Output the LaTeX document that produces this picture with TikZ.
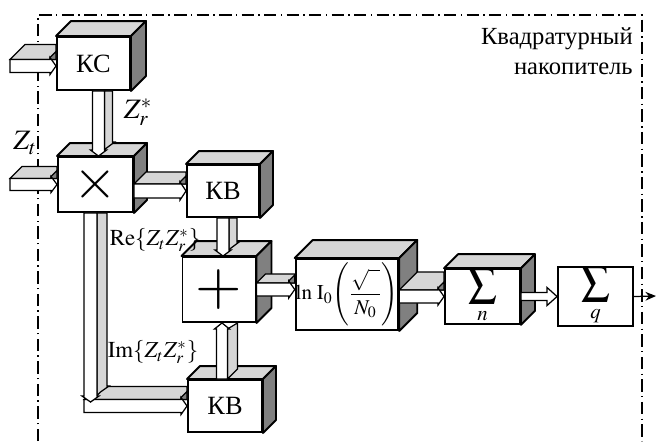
\documentclass[tikz,border=0pt]{standalone}
\usepackage{mathptmx}
\usepackage{fontspec}
\setmainfont{Liberation Serif}
\usetikzlibrary{calc, arrows.meta, positioning}

\newlength\px
\setlength\px{0.02cm}
\colorlet{topgray}{black!16}
\colorlet{sidegray}{black!50}

\tikzset{
  box/.style={draw, fill=white, line width=1.1pt, inner sep=0pt, font=\fontsize{15}{17}\selectfont},
  face/.style={draw, line width=1.1pt, line join=round},
  frame/.style={line width=0.6pt, dash pattern=on 7pt off 2.5pt on 0.8pt off 2.5pt},
  arrfront/.style={draw, fill=white, line width=0.7pt},
  arrtop/.style={draw, fill=topgray, line width=0.7pt},
  arrside/.style={draw, fill=sidegray, line width=0.7pt},
  lbl/.style={inner sep=0pt, font=\fontsize{13}{15}\selectfont},
}

% 3D faces of a block: node, depth
\newcommand\cubefaces[2]{%
  \draw[face, fill=topgray] (#1.north west) -- ++(#2,-#2) -- ($(#1.north east)+(#2,-#2)$) -- (#1.north east) -- cycle;
  \draw[face, fill=sidegray] (#1.north east) -- ++(#2,-#2) -- ($(#1.south east)+(#2,-#2)$) -- (#1.south east) -- cycle;
}
% wide horizontal arrow: tail, head, half width, depth
\newcommand\harrow[4]{%
  \coordinate (ta) at (#1);
  \coordinate (tb) at (#1 -| #2);
  \draw[arrtop] ($(ta)+(0,-#3)$) -- ++(#4,-#4) -- ($(tb)+(0,-#3-#4)$) -- ($(tb)+(0,-#3)$) -- cycle;
  \draw[arrside] ($(tb)+(-6,-#3)$) -- ++(0,-2) -- ++(6,-6) -- ($(tb)+(0,-#3)$) -- cycle;
  \draw[arrfront] ($(ta)+(0,-#3)$) -- ($(tb)+(-6,-#3)$) -- ++(0,-2) -- (tb) -- ($(tb)+(-6,#3+2)$) -- ++(0,-2) -- ($(ta)+(0,#3)$) -- cycle;
}
% wide vertical arrow, downwards
\newcommand\darrow[4]{%
  \coordinate (ta) at (#1);
  \coordinate (tb) at (#1 |- #2);
  \draw[arrtop] ($(ta)+(#3,0)$) -- ++(#4,0) -- ($(tb)+(#3+#4,-6-#4)$) -- ($(tb)+(#3+2+#4,-6-#4)$) -- ($(tb)+(#4,-#4)$) -- (tb) -- ($(tb)+(#3,-6)$) -- cycle;
  \draw[arrfront] ($(ta)+(-#3,0)$) -- ($(ta)+(#3,0)$) -- ($(tb)+(#3,-6)$) -- ++(2,0) -- (tb) -- ($(tb)+(-#3-2,-6)$) -- ++(2,0) -- cycle;
}
% wide vertical arrow, upwards
\newcommand\uarrow[4]{%
  \coordinate (ta) at (#1);
  \coordinate (tb) at (#1 |- #2);
  \draw[arrtop] ($(ta)+(#3,0)$) -- ++(#4,-#4) -- ($(tb)+(#3+#4,0)$) -- ($(tb)+(#3,6)$) -- cycle;
  \draw[arrfront] ($(ta)+(-#3,0)$) -- ($(ta)+(#3,0)$) -- ($(tb)+(#3,6)$) -- ++(2,0) -- (tb) -- ($(tb)+(-#3-2,6)$) -- ++(2,0) -- cycle;
}
% flat arrow
\newcommand\farrow[2]{%
  \coordinate (ta) at (#1);
  \coordinate (tb) at (#1 -| #2);
  \draw[arrfront] ($(ta)+(0,-4)$) -- ($(tb)+(-10,-4)$) -- ++(0,-5) -- (tb) -- ($(tb)+(-10,9)$) -- ++(0,-5) -- ($(ta)+(0,4)$) -- cycle;
}

\begin{document}
\begin{tikzpicture}[x=0.02cm, y=-0.02cm]
  \useasboundingbox (0,0) rectangle (656,441);

  % frame of the accumulator
  \draw[frame] (38,441) -- (38,15) -- (642,15) -- (642,441);
  \node[inner sep=0pt, anchor=north east, align=right, font=\fontsize{14}{17}\selectfont] (title) at (633,27) {Квадратурный\\накопитель};

  % blocks
  \node[box, minimum width=73\px, minimum height=53\px] (ks) at (93.5,63.5) {КС};
  \cubefaces{ks}{15}
  \node[box, minimum width=75\px, minimum height=55\px, font=\fontsize{32}{32}\selectfont] (mul) at (95.5,184.5) {$\times$};
  \cubefaces{mul}{13}
  \node[box, minimum width=72\px, minimum height=52\px] (kba) at (223,191) {КВ};
  \cubefaces{kba}{13}
  \node[box, minimum width=73\px, minimum height=65\px, font=\fontsize{34}{34}\selectfont] (plus) at (219,289.5) {$+$};
  \cubefaces{plus}{15}
  \node[box, minimum width=74\px, minimum height=52\px] (kbb) at (225,406) {КВ};
  \cubefaces{kbb}{13}
  \node[box, minimum width=102\px, minimum height=71\px, font=\fontsize{12}{14}\selectfont] (lnb) at (347,294.5) {$\ln\,\mathrm{I}_0\Biggl(\displaystyle\frac{\sqrt{\phantom{n}}}{N_0}\Biggr)$};
  \cubefaces{lnb}{18}
  \node[box, minimum width=75\px, minimum height=53\px, font=\fontsize{16}{18}\selectfont] (sn) at (482.5,296.5) {$\displaystyle\sum_{n}$};
  \cubefaces{sn}{14}
  \node[box, minimum width=75\px, minimum height=54\px, font=\fontsize{16}{18}\selectfont] (sq) at (595.5,296.5) {$\displaystyle\sum_{q}$};

  % free ends and offsets
  \coordinate (inks) at (10,66);
  \coordinate (inmul) at (10,184.5);
  \coordinate (lbend) at (84,406);
  \coordinate (ltip) at (84,402);
  \coordinate (out) at (656,296);
  \coordinate (ksout) at ($(ks.south)+(5,0)$);
  \coordinate (kbbout) at ($(kbb.north)+(-3,0)$);
  \coordinate (mulout) at ($(mul.south)+(-5,0)$);

  % wide arrows
  \harrow{inks}{ks.west}{6.5}{15}
  \harrow{inmul}{mul.west}{6}{12}
  \darrow{ksout}{mul.north}{6}{8}
  \harrow{mul.east |- kba.west}{kba.west}{7}{12}
  \darrow{kba.south}{plus.north}{6}{8}
  \uarrow{kbbout}{plus.south}{5.5}{10}
  \harrow{plus.east}{lnb.west}{6.5}{9}
  \harrow{lnb.east |- sn.west}{sn.west}{6.5}{18}
  \harrow{lbend}{kbb.west}{6.5}{13}
  \darrow{mulout}{ltip}{6.5}{10}
  \farrow{sn.east}{sq.west}
  \draw[line width=0.7pt, -{Stealth[length=6pt, width=5pt]}] (sq.east) -- (out);

  % labels
  \node[lbl, font=\fontsize{16}{18}\selectfont] (zr) at (138,112) {$Z_r^*$};
  \node[lbl, font=\fontsize{16}{18}\selectfont] (zt) at (25,143) {$Z_t$};
  \node[lbl] (re) at (155,240) {$\mathrm{Re}\!\left\{Z_t Z_r^*\right\}$};
  \node[lbl] (im) at (153,352) {$\mathrm{Im}\!\left\{Z_t Z_r^*\right\}$};
\end{tikzpicture}
\end{document}
